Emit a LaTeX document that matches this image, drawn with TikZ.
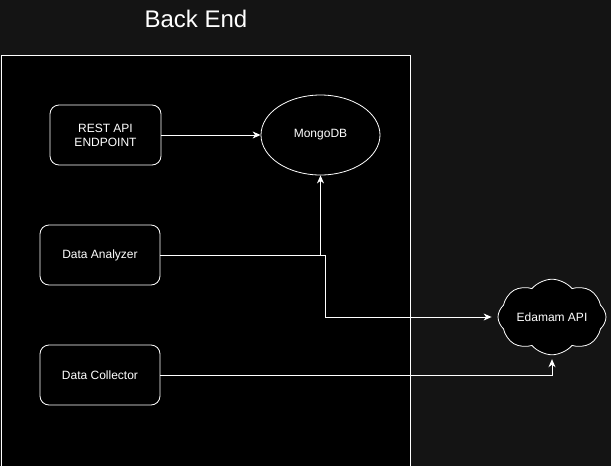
\documentclass[tikz,border=0pt]{standalone}
\usepackage{fontspec}
\setmainfont{Liberation Sans}
\usetikzlibrary{shapes.geometric, shapes.symbols, arrows.meta}

\definecolor{canvas}{HTML}{141414}

\tikzset{
    block/.style={draw=white, line width=0.8pt, fill=black, rounded corners=9pt,
        minimum width=120pt, minimum height=60pt, align=center, text=white, font=\fontsize{12}{14}\selectfont},
    store/.style={draw=white, line width=0.8pt, fill=black, ellipse,
        minimum width=119pt, minimum height=80pt, text=white, font=\fontsize{12}{14}\selectfont},
    service/.style={draw=white, line width=0.8pt, fill=black, cloud, cloud puffs=8, cloud puff arc=100,
        aspect=1.6, inner sep=0pt, minimum width=108pt, minimum height=70pt, text=white, font=\fontsize{12}{14}\selectfont},
    link/.style={draw=white, line width=0.9pt, -{Stealth[length=8pt, width=7pt, inset=2.5pt]}}
}

\begin{document}
\begin{tikzpicture}[x=1pt, y=-1pt]
    %canvas and back end frame
    \fill[canvas] (0,0) rectangle (611,466);
    \useasboundingbox (0,0) rectangle (611,466);
    \draw[white, line width=0.8pt, fill=black] (1,55) rectangle (410,470);
    \node[text=white, font=\fontsize{24}{28}\selectfont] (title) at (196,19) {Back End};

    %components
    \node[block, minimum width=111pt] (rest) at (105.5,135) {REST API\\ENDPOINT};
    \node[block] (analyzer) at (100,255) {Data Analyzer};
    \node[block] (collector) at (100,375) {Data Collector};
    \node[store] (mongo) at (320.5,135) {MongoDB};
    \node[service] (edamam) at (552,317) {Edamam API};
    \coordinate (split) at (325,255);

    %connections
    \draw[link] (rest) -- (mongo);
    \draw[link] (analyzer.east) -| (mongo.south);
    \draw[link, shorten >=6pt] (analyzer.east) -- (split) |- (edamam.west);
    \draw[link, shorten >=4pt] (collector.east) -| (edamam.south);
\end{tikzpicture}
\end{document}
